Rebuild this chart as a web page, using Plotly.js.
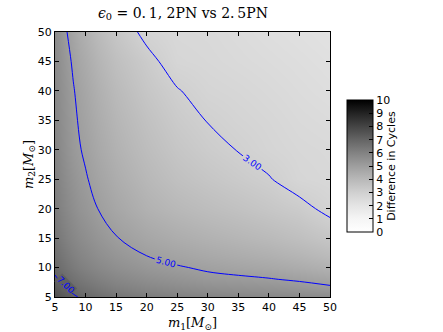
<!DOCTYPE html>
<html>
<head>
<meta charset="utf-8">
<script src="https://cdn.plot.ly/plotly-3.0.1.min.js"></script>
<style>
	html, body { margin: 0; padding: 0; background: #fff; }
	#plot { width: 443px; height: 332px; }
</style>
</head>
<body>
<div id="plot"></div>
<script>
// component masses (solar masses) where the difference was read
var m1 = [5, 6, 7, 8, 9, 10, 12, 15, 20, 25, 30, 35, 40, 45, 50];
var m2 = [5, 6, 7, 8, 9, 10, 12, 15, 20, 25, 30, 35, 40, 45, 50];

// difference in cycles, one row per m2 value
var cycles_m2_5  = [7.67, 7.45, 7.27, 7.11, 6.96, 6.85, 6.67, 6.45, 6.22, 6.06, 5.95, 5.86, 5.80, 5.74, 5.69];
var cycles_m2_6  = [7.45, 7.23, 7.05, 6.89, 6.74, 6.63, 6.44, 6.21, 5.96, 5.80, 5.66, 5.58, 5.52, 5.43, 5.32];
var cycles_m2_7  = [7.27, 7.05, 6.86, 6.70, 6.56, 6.44, 6.25, 6.01, 5.75, 5.57, 5.42, 5.35, 5.28, 5.16, 4.99];
var cycles_m2_8  = [7.11, 6.89, 6.70, 6.54, 6.40, 6.27, 6.08, 5.84, 5.56, 5.38, 5.20, 5.13, 5.04, 4.91, 4.73];
var cycles_m2_9  = [6.96, 6.74, 6.56, 6.40, 6.26, 6.13, 5.93, 5.69, 5.39, 5.21, 5.04, 4.94, 4.84, 4.68, 4.48];
var cycles_m2_10 = [6.85, 6.63, 6.44, 6.27, 6.13, 6.00, 5.80, 5.55, 5.26, 5.06, 4.90, 4.77, 4.65, 4.48, 4.27];
var cycles_m2_12 = [6.67, 6.44, 6.25, 6.08, 5.93, 5.80, 5.57, 5.32, 5.00, 4.78, 4.60, 4.46, 4.32, 4.13, 3.89];
var cycles_m2_15 = [6.45, 6.21, 6.01, 5.84, 5.69, 5.55, 5.32, 5.03, 4.68, 4.44, 4.25, 4.09, 3.92, 3.70, 3.42];
var cycles_m2_20 = [6.22, 5.96, 5.75, 5.56, 5.39, 5.26, 5.00, 4.68, 4.26, 4.00, 3.79, 3.61, 3.40, 3.20, 2.82];
var cycles_m2_25 = [6.06, 5.80, 5.57, 5.38, 5.21, 5.06, 4.78, 4.44, 4.00, 3.66, 3.43, 3.23, 3.04, 2.70, 2.60];
var cycles_m2_30 = [5.95, 5.66, 5.42, 5.20, 5.04, 4.90, 4.60, 4.25, 3.79, 3.43, 3.17, 2.98, 2.76, 2.62, 2.55];
var cycles_m2_35 = [5.86, 5.58, 5.35, 5.13, 4.94, 4.77, 4.46, 4.09, 3.61, 3.23, 2.98, 2.80, 2.67, 2.52, 2.43];
var cycles_m2_40 = [5.80, 5.52, 5.28, 5.04, 4.84, 4.65, 4.32, 3.92, 3.40, 3.04, 2.76, 2.67, 2.55, 2.42, 2.31];
var cycles_m2_45 = [5.74, 5.43, 5.16, 4.91, 4.68, 4.48, 4.13, 3.70, 3.20, 2.70, 2.62, 2.52, 2.42, 2.32, 2.21];
var cycles_m2_50 = [5.69, 5.32, 4.99, 4.73, 4.48, 4.27, 3.89, 3.42, 2.82, 2.60, 2.55, 2.43, 2.31, 2.21, 2.10];

// contour levels drawn in blue
var contour_start = 3;
var contour_end = 7;
var contour_step = 2;

// the 7.00 line is too short for plotly to label it, so its label is placed by hand
var label_7_text = "7.00";
var label_7_m1 = 6.8;
var label_7_m2 = 7.1;

var cycles = [
	cycles_m2_5, cycles_m2_6, cycles_m2_7, cycles_m2_8, cycles_m2_9,
	cycles_m2_10, cycles_m2_12, cycles_m2_15, cycles_m2_20, cycles_m2_25,
	cycles_m2_30, cycles_m2_35, cycles_m2_40, cycles_m2_45, cycles_m2_50
];

// matplotlib style grey, a little lighter in the middle
var greys = [
	[0.0, "rgb(255,255,255)"],
	[0.1, "rgb(245,245,245)"],
	[0.2, "rgb(228,228,228)"],
	[0.3, "rgb(208,208,208)"],
	[0.4, "rgb(184,184,184)"],
	[0.5, "rgb(158,158,158)"],
	[0.6, "rgb(130,130,130)"],
	[0.7, "rgb(100,100,100)"],
	[0.8, "rgb(68,68,68)"],
	[0.9, "rgb(35,35,35)"],
	[1.0, "rgb(0,0,0)"]
];

var tickfont = {family: "DejaVu Sans, sans-serif", size: 11, color: "#000"};
var blue = "#0000ff";

var shade = {
	type: "heatmap",
	x: m1,
	y: m2,
	z: cycles,
	zmin: 0,
	zmax: 10,
	zsmooth: "best",
	colorscale: greys,
	hoverinfo: "skip",
	colorbar: {
		x: 1.062,
		xanchor: "left",
		xpad: 0,
		y: 0.494,
		yanchor: "middle",
		ypad: 0,
		len: 132,
		lenmode: "pixels",
		thickness: 26,
		outlinewidth: 1,
		outlinecolor: "#000",
		ticks: "inside",
		ticklen: 4,
		tickcolor: "#000",
		tick0: 0,
		dtick: 1,
		tickfont: tickfont,
		title: {
			text: "Difference in Cycles",
			side: "right",
			font: {family: "DejaVu Sans, sans-serif", size: 11, color: "#000"}
		}
	}
};

var lines = {
	type: "contour",
	x: m1,
	y: m2,
	z: cycles,
	showscale: false,
	hoverinfo: "skip",
	autocontour: false,
	contours: {
		coloring: "none",
		start: contour_start,
		end: contour_end,
		size: contour_step,
		showlabels: true,
		labelformat: ".2f",
		labelfont: {family: "DejaVu Sans, sans-serif", size: 9, color: blue}
	},
	line: {color: blue, width: 1, smoothing: 1}
};

var axis = {
	range: [5, 50],
	tick0: 5,
	dtick: 5,
	ticks: "inside",
	ticklen: 4,
	tickcolor: "#000",
	showline: true,
	linecolor: "#000",
	linewidth: 1,
	mirror: "ticks",
	showgrid: false,
	zeroline: false,
	tickfont: tickfont
};

var layout = {
	width: 443,
	height: 332,
	margin: {l: 55, r: 113, t: 32, b: 35},
	paper_bgcolor: "#fff",
	plot_bgcolor: "#fff",
	showlegend: false,
	title: {
		text: "<i>\u03f5</i><sub>0</sub> = 0.\u20091, 2PN vs 2.\u20095PN",
		font: {family: "DejaVu Serif, serif", size: 14, color: "#000"},
		x: 0.413,
		xanchor: "center",
		xref: "container",
		y: 0.962,
		yanchor: "middle",
		yref: "container"
	},
	xaxis: Object.assign({}, axis, {
		title: {
			text: "<i>m</i><sub>1</sub>[<i>M</i><sub>\u2299</sub>]",
			font: {family: "DejaVu Serif, serif", size: 13, color: "#000"},
			standoff: 4
		}
	}),
	yaxis: Object.assign({}, axis, {
		title: {
			text: "<i>m</i><sub>2</sub>[<i>M</i><sub>\u2299</sub>]",
			font: {family: "DejaVu Serif, serif", size: 13, color: "#000"},
			standoff: 1
		}
	}),
	annotations: [{
		x: label_7_m1,
		y: label_7_m2,
		xref: "x",
		yref: "y",
		text: label_7_text,
		showarrow: false,
		textangle: 45,
		bgcolor: "rgb(96,96,96)",
		borderpad: 0,
		font: {family: "DejaVu Sans, sans-serif", size: 9, color: blue}
	}]
};

Plotly.newPlot("plot", [shade, lines], layout, {displayModeBar: false, staticPlot: true});
</script>
</body>
</html>
